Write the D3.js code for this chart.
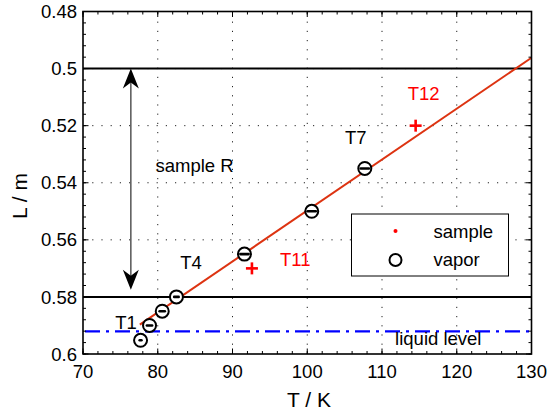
<!DOCTYPE html>
<html>
<head>
<meta charset="utf-8">
<script src="https://cdn.jsdelivr.net/npm/d3@7"></script>
<style>
  html, body { margin: 0; padding: 0; background: #fff; }
  svg { display: block; }
  text { font-family: "Liberation Sans", Arial, sans-serif; }
</style>
</head>
<body>
<svg id="chart" width="549" height="413"></svg>
<script>
// Axis ticks
const xTicks = [70, 80, 90, 100, 110, 120, 130];
const xTickLabels = ["70", "80", "90", "100", "110", "120", "130"];
const yTicks = [0.48, 0.50, 0.52, 0.54, 0.56, 0.58, 0.60];
const yTickLabels = ["0.48", "0.5", "0.52", "0.54", "0.56", "0.58", "0.6"];

// Vapor measurements (temperature, position, temperature error)
const vaporT = [77.7, 78.9, 80.6, 82.5, 91.6, 100.6, 107.7];
const vaporL = [0.5952, 0.590, 0.585, 0.580, 0.565, 0.550, 0.535];
const vaporErr = [0.12, 0.35, 0.35, 0.3, 0.55, 0.55, 0.55];

// Sample measurements
const sampleT = [92.6, 114.5];
const sampleL = [0.570, 0.520];

// Linear fit through the vapor points
const fitT = [77.6, 130];
const fitL = [0.5897, 0.4962];

// Reference levels
const sampleBounds = [0.50, 0.58];
const liquidLevel = 0.5921;
const arrowT = 76.4;
const arrowL = [0.50, 0.5775];

// Annotations
const labelText = ["T1", "T4", "T7", "T11", "T12", "sample R", "liquid level"];
const labelT = [74.3, 83.0, 105.05, 96.35, 113.45, 79.7, 111.75];
const labelL = [0.5911, 0.5701, 0.5264, 0.5690, 0.5110, 0.5364, 0.5970];
const labelColor = ["#000", "#000", "#000", "#ff0000", "#ff0000", "#000", "#000"];

(function () {
  const svg = d3.select("#chart");
  const pl = 83, pr = 531.5, pt = 11.5, pb = 354;
  const x = d3.scaleLinear().domain([70, 130]).range([pl, pr]);
  const y = d3.scaleLinear().domain([0.48, 0.60]).range([pt, pb]);
  const FS = 18.5;

  // Dotted grid
  const grid = svg.append("g").attr("stroke", "#222").attr("stroke-width", 1)
    .attr("stroke-dasharray", "1.2,8");
  grid.selectAll("line.gx").data(xTicks.slice(1, -1)).join("line")
    .attr("class", "gx")
    .attr("x1", d => x(d)).attr("x2", d => x(d))
    .attr("y1", pb).attr("y2", pt);
  grid.selectAll("line.gy").data(yTicks.slice(1, -1)).join("line")
    .attr("class", "gy")
    .attr("y1", d => y(d)).attr("y2", d => y(d))
    .attr("x1", pl).attr("x2", pr);

  // Liquid level
  svg.append("line")
    .attr("x1", x(70)).attr("x2", x(130))
    .attr("y1", y(liquidLevel)).attr("y2", y(liquidLevel))
    .attr("stroke", "#0000ff").attr("stroke-width", 2.2)
    .attr("stroke-dasharray", "15,6,3,6")
    .attr("stroke-dashoffset", -2);

  // Sample boundaries
  svg.selectAll("line.bound").data(sampleBounds).join("line")
    .attr("class", "bound")
    .attr("x1", x(70)).attr("x2", x(130))
    .attr("y1", d => y(d)).attr("y2", d => y(d))
    .attr("stroke", "#000").attr("stroke-width", 2);

  // Fit line
  svg.append("path")
    .datum(d3.zip(fitT, fitL))
    .attr("d", d3.line().x(d => x(d[0])).y(d => y(d[1])))
    .attr("fill", "none").attr("stroke", "#dd3311").attr("stroke-width", 2);

  // Double arrow spanning the sample
  const ax = x(arrowT), ay0 = y(arrowL[0]), ay1 = y(arrowL[1]);
  svg.append("line")
    .attr("x1", ax).attr("x2", ax).attr("y1", ay0 + 12).attr("y2", ay1 - 12)
    .attr("stroke", "#555").attr("stroke-width", 1.5);
  const head = "M0,0 L8,20 L0,14 L-8,20 Z";
  svg.append("path").attr("d", head)
    .attr("transform", `translate(${ax},${ay0})`).attr("fill", "#000");
  svg.append("path").attr("d", head)
    .attr("transform", `translate(${ax},${ay1}) scale(1,-1)`).attr("fill", "#000");

  // Vapor points
  const vap = svg.append("g");
  const vapData = d3.range(vaporT.length).map(i => ({ t: vaporT[i], l: vaporL[i], e: vaporErr[i] }));
  vap.selectAll("circle").data(vapData).join("circle")
    .attr("cx", d => x(d.t)).attr("cy", d => y(d.l)).attr("r", 6.5)
    .attr("fill", "#fff").attr("stroke", "#000").attr("stroke-width", 2);
  vap.selectAll("line").data(vapData).join("line")
    .attr("x1", d => x(d.t - d.e)).attr("x2", d => x(d.t + d.e))
    .attr("y1", d => y(d.l)).attr("y2", d => y(d.l))
    .attr("stroke", "#000").attr("stroke-width", 2.6).attr("stroke-linecap", "round");

  // Sample points
  const samp = svg.append("g").attr("stroke", "#ff0000").attr("stroke-width", 2.6);
  d3.range(sampleT.length).forEach(i => {
    const cx = x(sampleT[i]), cy = y(sampleL[i]);
    samp.append("line").attr("x1", cx - 6).attr("x2", cx + 6).attr("y1", cy).attr("y2", cy);
    samp.append("line").attr("x1", cx).attr("x2", cx).attr("y1", cy - 6).attr("y2", cy + 6);
  });

  // Annotations
  svg.selectAll("text.ann").data(labelText).join("text")
    .attr("class", "ann")
    .attr("x", (d, i) => x(labelT[i])).attr("y", (d, i) => y(labelL[i]))
    .attr("fill", (d, i) => labelColor[i])
    .attr("font-size", FS).text(d => d);

  // Axes box
  svg.append("rect").attr("x", pl).attr("y", pt)
    .attr("width", pr - pl).attr("height", pb - pt)
    .attr("fill", "none").attr("stroke", "#000").attr("stroke-width", 1.6);

  // Tick marks (inside, on all four sides)
  const xMinor = d3.range(70, 130.001, 2);
  const yMinor = d3.range(0, 31).map(i => 0.48 + i * 0.004);
  const ticks = svg.append("g").attr("stroke", "#000").attr("stroke-width", 1);
  function xTickMarks(vals, len) {
    vals.forEach(v => {
      ticks.append("line").attr("x1", x(v)).attr("x2", x(v)).attr("y1", pb).attr("y2", pb - len);
      ticks.append("line").attr("x1", x(v)).attr("x2", x(v)).attr("y1", pt).attr("y2", pt + len);
    });
  }
  function yTickMarks(vals, len) {
    vals.forEach(v => {
      ticks.append("line").attr("y1", y(v)).attr("y2", y(v)).attr("x1", pl).attr("x2", pl + len);
      ticks.append("line").attr("y1", y(v)).attr("y2", y(v)).attr("x1", pr).attr("x2", pr - len);
    });
  }
  xTickMarks(xMinor, 3);
  xTickMarks(xTicks, 5.5);
  yTickMarks(yMinor, 3);
  yTickMarks(yTicks, 5.5);

  // Tick labels
  svg.selectAll("text.xt").data(xTicks).join("text")
    .attr("class", "xt").attr("x", d => x(d)).attr("y", 378)
    .attr("text-anchor", "middle").attr("font-size", FS)
    .text((d, i) => xTickLabels[i]);
  svg.selectAll("text.yt").data(yTicks).join("text")
    .attr("class", "yt").attr("x", pl - 6).attr("y", d => y(d))
    .attr("dy", "0.36em").attr("text-anchor", "end").attr("font-size", FS)
    .text((d, i) => yTickLabels[i]);

  // Axis titles
  svg.append("text").attr("x", 309).attr("y", 407)
    .attr("text-anchor", "middle").attr("font-size", 21).text("T / K");
  svg.append("text").attr("transform", "translate(27,196) rotate(-90)")
    .attr("text-anchor", "middle").attr("font-size", 21).text("L / m");

  // Legend
  const lg = svg.append("g");
  lg.append("rect").attr("x", 351.5).attr("y", 214).attr("width", 157).attr("height", 62)
    .attr("fill", "#fff").attr("stroke", "#000").attr("stroke-width", 1);
  lg.append("circle").attr("cx", 395.5).attr("cy", 231).attr("r", 2).attr("fill", "#ff0000");
  lg.append("circle").attr("cx", 395.5).attr("cy", 260).attr("r", 6)
    .attr("fill", "none").attr("stroke", "#000").attr("stroke-width", 2);
  lg.append("text").attr("x", 433.5).attr("y", 237.5).attr("font-size", FS).text("sample");
  lg.append("text").attr("x", 433.5).attr("y", 265.5).attr("font-size", FS).text("vapor");
})();
</script>
</body>
</html>
